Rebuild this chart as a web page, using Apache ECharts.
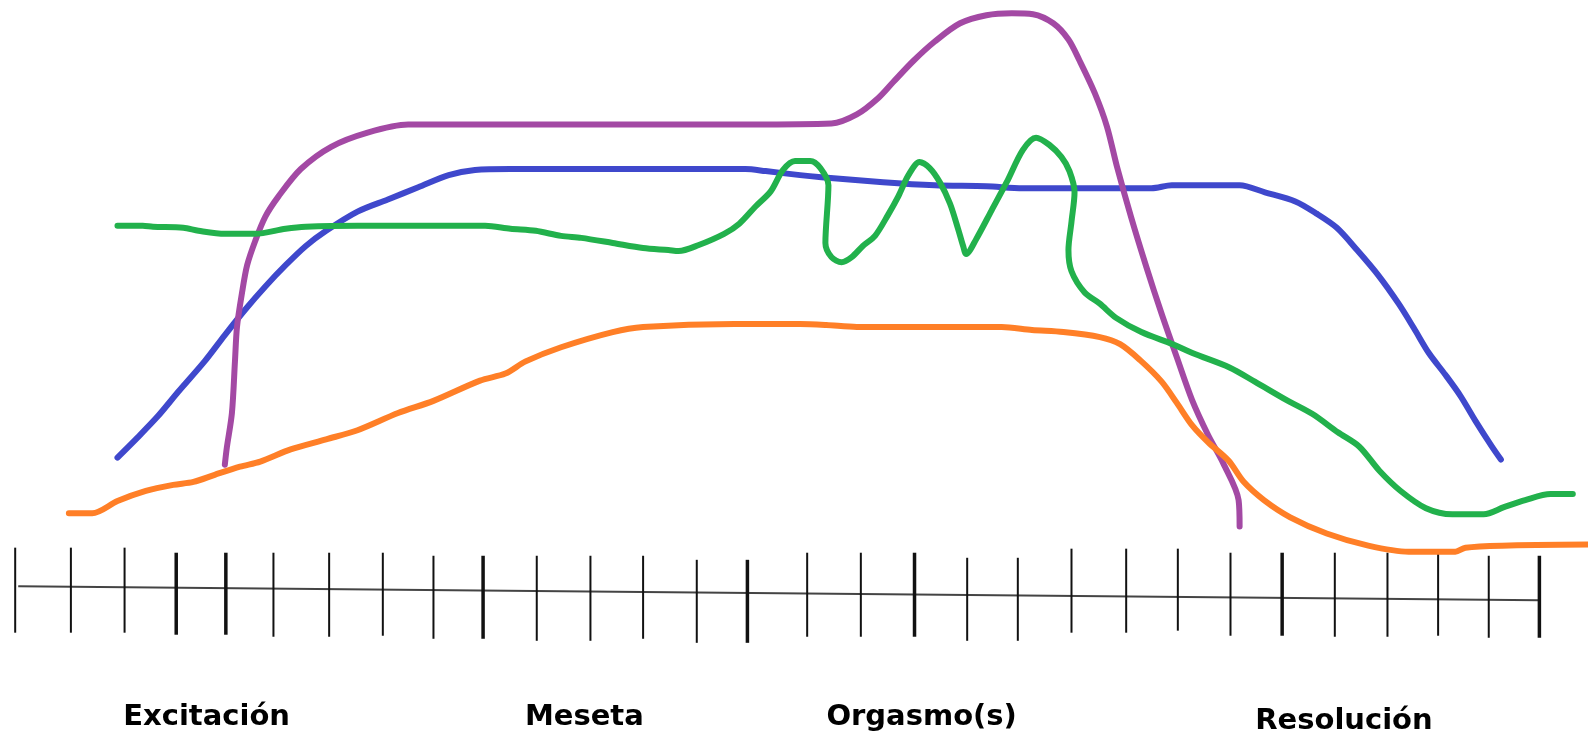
<!DOCTYPE html>
<html>
<head>
<meta charset="utf-8">
<script src="https://cdn.jsdelivr.net/npm/echarts@6/dist/echarts.min.js"></script>
<style>
html,body{margin:0;padding:0;background:#fff;}
#chart{width:1588px;height:740px;}
</style>
</head>
<body>
<div id="chart"></div>
<script>
// Readings in picture units: x = time along the ruler, y = distance from top (axis is inverted)
const orange = [[68,507],[91,507],[116,495],[144,485],[171,479],[191,476],[212,469],[237,461],[257,456],[287,444],[322,434],[353,425],[393,408],[428,396],[474,376],[499,369],[519,357],[554,343],[605,328],[635,323],[725,320],[790,320],[816,321],[846,323],[989,323],[1019,326],[1050,328],[1086,333],[1106,340],[1126,356],[1147,377],[1162,398],[1177,420],[1193,437],[1213,455],[1228,476],[1248,494],[1274,511],[1310,527],[1351,539],[1391,545],[1437,545],[1447,541],[1483,539],[1568,538]];
const blue = [[116,452],[136,432],[156,411],[176,387],[202,357],[222,331],[242,306],[262,283],[282,262],[302,243],[322,228],[353,209],[383,197],[413,185],[443,173],[469,168],[504,167],[736,167],[756,169],[790,173],[811,175],[872,180],[923,183],[974,184],[1010,186],[1137,186],[1157,183],[1224,183],[1249,190],[1279,199],[1300,211],[1320,225],[1340,247],[1361,272],[1381,300],[1396,324],[1411,349],[1427,370],[1442,391],[1457,416],[1473,441],[1482,454]];
const purple = [[222,459],[224,442],[229,408],[232,357],[234,323],[239,289],[244,262],[252,238],[262,214],[275,194],[297,167],[327,145],[363,131],[403,123],[741,123],[821,122],[846,113],[867,97],[882,81],[902,60],[923,41],[948,23],[974,15],[999,13],[1020,14],[1040,23],[1055,39],[1066,60],[1081,92],[1093,125],[1103,165],[1117,215],[1132,264],[1147,310],[1162,353],[1177,395],[1193,430],[1208,458],[1223,494],[1224,520]];
const green = [[116,223],[141,223],[151,224],[181,225],[196,228],[222,231],[252,231],[282,226],[302,224],[353,223],[479,223],[504,226],[529,228],[554,233],[574,235],[605,240],[635,245],[660,247],[670,248],[690,242],[715,231],[730,221],[746,204],[761,189],[773,168],[785,159],[800,159],[810,166],[818,183],[815,240],[821,254],[831,259],[841,254],[852,243],[864,233],[877,212],[887,194],[897,173],[908,160],[918,166],[928,180],[938,201],[946,226],[951,243],[954,251],[964,236],[979,208],[994,180],[1010,148],[1023,136],[1036,143],[1048,155],[1056,169],[1061,190],[1058,219],[1055,247],[1058,268],[1071,289],[1086,300],[1102,314],[1127,328],[1158,340],[1178,349],[1214,363],[1239,377],[1270,395],[1296,409],[1321,427],[1342,441],[1362,465],[1383,485],[1408,502],[1434,508],[1465,508],[1485,501],[1506,494],[1531,488],[1553,488]];

// Ruler
const rulerLine = [[18,579],[1520,593]];
const tickX      = [15,70,123,174,223,270,325,378,428,477,530,583,635,688,738,797,850,903,955,1005,1058,1112,1163,1215,1266,1318,1370,1420,1470,1520];
const tickTop    = [541,541,541,546,546,546,546,546,549,549,549,549,549,553,553,546,546,546,551,551,542,542,542,546,546,546,546,546,549,549];
const tickBottom = [625,625,625,627,627,629,629,628,631,631,633,633,631,635,635,629,629,629,633,633,625,625,623,628,628,629,629,628,630,630];
const tickMajor  = [0,0,0,1,1,0,0,0,0,1,0,0,0,0,1,0,0,1,0,0,0,0,0,0,1,0,0,0,0,1];

// Phase labels
const phaseNames = ['Excitación','Meseta','Orgasmo(s)','Resolución'];
const phaseX = [204,577,910,1327];
const phaseY = [709,709,709,713];

const chart = echarts.init(document.getElementById('chart'));
const tickData = tickX.map((x,i)=>[x,tickTop[i],tickBottom[i],tickMajor[i]]);
const lineStyleOf = c => ({color:c,width:6,cap:'round',join:'round'});

chart.setOption({
  animation:false,
  backgroundColor:'#ffffff',
  grid:{left:0,right:0,top:0,bottom:0},
  xAxis:{type:'value',min:0,max:1568,show:false},
  yAxis:{type:'value',min:0,max:731,inverse:true,show:false},
  series:[
    {type:'line',data:rulerLine,symbol:'none',lineStyle:{color:'#444',width:2},z:1},
    {type:'custom',data:tickData,z:2,
      renderItem:(params,api)=>{
        const p1 = api.coord([api.value(0),api.value(1)]);
        const p2 = api.coord([api.value(0),api.value(2)]);
        return {type:'line',shape:{x1:p1[0],y1:p1[1],x2:p2[0],y2:p2[1]},
          style:{stroke:'#111',lineWidth:api.value(3)?3.5:2}};
      }},
    {type:'line',data:blue,symbol:'none',smooth:0.3,lineStyle:lineStyleOf('#3f48cc'),z:3},
    {type:'line',data:purple,symbol:'none',smooth:0.3,lineStyle:lineStyleOf('#a349a4'),z:4},
    {type:'line',data:orange,symbol:'none',smooth:0.3,lineStyle:lineStyleOf('#ff7f27'),z:5},
    {type:'line',data:green,symbol:'none',smooth:0.3,lineStyle:lineStyleOf('#22b14c'),z:6},
    {type:'scatter',symbolSize:0,z:7,itemStyle:{opacity:1},
      data:phaseNames.map((n,i)=>({name:n,value:[phaseX[i],phaseY[i]]})),
      label:{show:true,position:'inside',formatter:'{b}',color:'#000',opacity:1,
        fontFamily:'DejaVu Sans',fontWeight:'bold',fontSize:29}}
  ]
});
</script>
</body>
</html>
